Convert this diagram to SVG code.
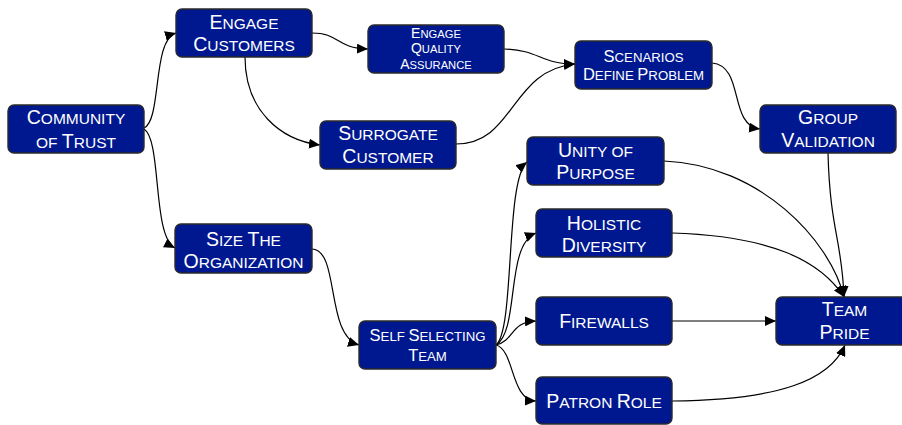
<svg xmlns="http://www.w3.org/2000/svg" width="902" height="425" viewBox="0 0 902 425">
<defs>
<style>
.box{fill:#00188F;stroke:#2a2a2a;stroke-width:1.4}
.t{font-family:"Liberation Sans",Arial,sans-serif;font-size:15.5px;fill:#ffffff;text-anchor:middle}
.t .b{font-size:19.5px}
.m{font-family:"Liberation Sans",Arial,sans-serif;font-size:13.2px;fill:#ffffff;text-anchor:middle}
.m .b{font-size:16.5px}
.s{font-family:"Liberation Sans",Arial,sans-serif;font-size:11.2px;fill:#ffffff;text-anchor:middle}
.s .b{font-size:14px}
.e{fill:none;stroke:#000;stroke-width:1.2;marker-end:url(#arr)}
</style>
<marker id="arr" markerUnits="userSpaceOnUse" markerWidth="12" markerHeight="10" refX="11" refY="5" orient="auto">
<path d="M0,0 L11,5 L0,10 z" fill="#000"/>
</marker>
</defs>
<rect width="902" height="425" fill="#ffffff"/>
<g id="connectors">
<path class="e" d="M144,128 C162,120 152,40 176,33"/>
<path class="e" d="M144,129 C162,140 152,236 175,248"/>
<path class="e" d="M312,33 C340,33 335,48 368,49"/>
<path class="e" d="M245,57 C245,110 280,140 320,145"/>
<path class="e" d="M504,49 C540,50 540,64 575,64"/>
<path class="e" d="M456,144 C515,144 510,70 575,64"/>
<path class="e" d="M712,63 C745,66 728,125 760,129"/>
<path class="e" d="M828,153 C830,230 842,240 844,297"/>
<path class="e" d="M664,161 C760,165 830,240 844,297"/>
<path class="e" d="M672,233 C770,236 820,260 844,297"/>
<path class="e" d="M672,321 L776,321"/>
<path class="e" d="M672,401 C780,400 830,380 845,345"/>
<path class="e" d="M312,249 C340,250 325,335 359,345"/>
<path class="e" d="M496,345 C515,330 505,180 527,162"/>
<path class="e" d="M496,345 C520,330 505,245 536,233"/>
<path class="e" d="M496,345 C515,340 510,322 536,321"/>
<path class="e" d="M496,345 C515,350 510,400 536,401"/>
</g>
<g id="community-of-trust">
<rect class="box" x="8" y="105" width="136" height="48" rx="6"/>
<text class="t" x="76" y="124"><tspan class="b">C</tspan>OMMUNITY</text>
<text class="t" x="76" y="147.5">OF <tspan class="b">T</tspan>RUST</text>
</g>
<g id="engage-customers">
<rect class="box" x="176" y="9" width="136" height="48" rx="6"/>
<text class="t" x="244" y="28.5"><tspan class="b">E</tspan>NGAGE</text>
<text class="t" x="244" y="51"><tspan class="b">C</tspan>USTOMERS</text>
</g>
<g id="engage-quality-assurance">
<rect class="box" x="368" y="25" width="136" height="48" rx="6"/>
<text class="s" x="436" y="37.5"><tspan class="b">E</tspan>NGAGE</text>
<text class="s" x="436" y="53"><tspan class="b">Q</tspan>UALITY</text>
<text class="s" x="436" y="68.7"><tspan class="b">A</tspan>SSURANCE</text>
</g>
<g id="surrogate-customer">
<rect class="box" x="320" y="121" width="136" height="48" rx="6"/>
<text class="t" x="388" y="140"><tspan class="b">S</tspan>URROGATE</text>
<text class="t" x="388" y="162.5"><tspan class="b">C</tspan>USTOMER</text>
</g>
<g id="scenarios-define-problem">
<rect class="box" x="575" y="41" width="137" height="48" rx="6"/>
<text class="m" x="643.5" y="61.5"><tspan class="b">S</tspan>CENARIOS</text>
<text class="m" x="643.5" y="80"><tspan class="b">D</tspan>EFINE <tspan class="b">P</tspan>ROBLEM</text>
</g>
<g id="group-validation">
<rect class="box" x="760" y="105" width="136" height="48" rx="6"/>
<text class="t" x="828" y="124"><tspan class="b">G</tspan>ROUP</text>
<text class="t" x="828" y="146.7"><tspan class="b">V</tspan>ALIDATION</text>
</g>
<g id="unity-of-purpose">
<rect class="box" x="527" y="137" width="137" height="48" rx="6"/>
<text class="t" x="595.5" y="156.7"><tspan class="b">U</tspan>NITY OF</text>
<text class="t" x="595.5" y="179"><tspan class="b">P</tspan>URPOSE</text>
</g>
<g id="holistic-diversity">
<rect class="box" x="536" y="209" width="136" height="48" rx="6"/>
<text class="t" x="604" y="229.5"><tspan class="b">H</tspan>OLISTIC</text>
<text class="t" x="604" y="251.5"><tspan class="b">D</tspan>IVERSITY</text>
</g>
<g id="firewalls">
<rect class="box" x="536" y="297" width="136" height="48" rx="6"/>
<text class="t" x="604" y="327.5"><tspan class="b">F</tspan>IREWALLS</text>
</g>
<g id="patron-role">
<rect class="box" x="536" y="377" width="136" height="47" rx="6"/>
<text class="t" x="604" y="407.7"><tspan class="b">P</tspan>ATRON <tspan class="b">R</tspan>OLE</text>
</g>
<g id="team-pride">
<rect class="box" x="776" y="297" width="137" height="48" rx="6"/>
<text class="t" x="844.5" y="316"><tspan class="b">T</tspan>EAM</text>
<text class="t" x="844.5" y="338.5"><tspan class="b">P</tspan>RIDE</text>
</g>
<g id="size-the-organization">
<rect class="box" x="175" y="224" width="137" height="49" rx="6"/>
<text class="t" x="243.5" y="246.3"><tspan class="b">S</tspan>IZE <tspan class="b">T</tspan>HE</text>
<text class="t" x="243.5" y="267.7"><tspan class="b">O</tspan>RGANIZATION</text>
</g>
<g id="self-selecting-team">
<rect class="box" x="359" y="321" width="137" height="48" rx="6"/>
<text class="m" x="427.5" y="341.3"><tspan class="b">S</tspan>ELF <tspan class="b">S</tspan>ELECTING</text>
<text class="m" x="427.5" y="360.5"><tspan class="b">T</tspan>EAM</text>
</g>
</svg>
